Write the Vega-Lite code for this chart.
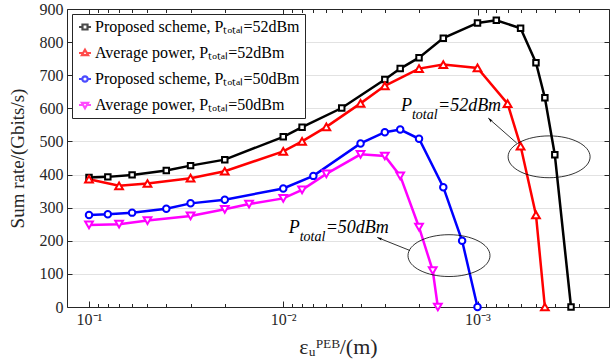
{
  "$schema": "https://vega.github.io/schema/vega-lite/v6.json",
  "width": 542,
  "height": 298,
  "autosize": {"type": "none"},
  "padding": {"left": 67, "top": 9, "right": 1, "bottom": 57},
  "background": "white",
  "config": {"view": {"stroke": null}, "font": "Liberation Serif"},
  "datasets": {
    "curves": [
      {"s": "Proposed scheme, Pₜₒₜₐₗ=52dBm", "x": 0.1, "rate": 391},
      {"s": "Proposed scheme, Pₜₒₜₐₗ=52dBm", "x": 0.08, "rate": 393},
      {"s": "Proposed scheme, Pₜₒₜₐₗ=52dBm", "x": 0.06, "rate": 399},
      {"s": "Proposed scheme, Pₜₒₜₐₗ=52dBm", "x": 0.04, "rate": 412},
      {"s": "Proposed scheme, Pₜₒₜₐₗ=52dBm", "x": 0.03, "rate": 427},
      {"s": "Proposed scheme, Pₜₒₜₐₗ=52dBm", "x": 0.02, "rate": 445},
      {"s": "Proposed scheme, Pₜₒₜₐₗ=52dBm", "x": 0.01, "rate": 514},
      {"s": "Proposed scheme, Pₜₒₜₐₗ=52dBm", "x": 0.008, "rate": 543},
      {"s": "Proposed scheme, Pₜₒₜₐₗ=52dBm", "x": 0.005, "rate": 601},
      {"s": "Proposed scheme, Pₜₒₜₐₗ=52dBm", "x": 0.003, "rate": 687},
      {"s": "Proposed scheme, Pₜₒₜₐₗ=52dBm", "x": 0.0025, "rate": 720},
      {"s": "Proposed scheme, Pₜₒₜₐₗ=52dBm", "x": 0.002, "rate": 753},
      {"s": "Proposed scheme, Pₜₒₜₐₗ=52dBm", "x": 0.0015, "rate": 812},
      {"s": "Proposed scheme, Pₜₒₜₐₗ=52dBm", "x": 0.001, "rate": 858},
      {"s": "Proposed scheme, Pₜₒₜₐₗ=52dBm", "x": 0.0008, "rate": 866},
      {"s": "Proposed scheme, Pₜₒₜₐₗ=52dBm", "x": 0.0006, "rate": 842},
      {"s": "Proposed scheme, Pₜₒₜₐₗ=52dBm", "x": 0.0005, "rate": 738},
      {"s": "Proposed scheme, Pₜₒₜₐₗ=52dBm", "x": 0.00045, "rate": 632},
      {"s": "Proposed scheme, Pₜₒₜₐₗ=52dBm", "x": 0.0004, "rate": 460},
      {"s": "Proposed scheme, Pₜₒₜₐₗ=52dBm", "x": 0.00033, "rate": 0},
      {"s": "Average power, Pₜₒₜₐₗ=52dBm", "x": 0.1, "rate": 386},
      {"s": "Average power, Pₜₒₜₐₗ=52dBm", "x": 0.07, "rate": 366},
      {"s": "Average power, Pₜₒₜₐₗ=52dBm", "x": 0.05, "rate": 373},
      {"s": "Average power, Pₜₒₜₐₗ=52dBm", "x": 0.03, "rate": 389},
      {"s": "Average power, Pₜₒₜₐₗ=52dBm", "x": 0.02, "rate": 410},
      {"s": "Average power, Pₜₒₜₐₗ=52dBm", "x": 0.01, "rate": 470},
      {"s": "Average power, Pₜₒₜₐₗ=52dBm", "x": 0.008, "rate": 500},
      {"s": "Average power, Pₜₒₜₐₗ=52dBm", "x": 0.006, "rate": 544},
      {"s": "Average power, Pₜₒₜₐₗ=52dBm", "x": 0.004, "rate": 615},
      {"s": "Average power, Pₜₒₜₐₗ=52dBm", "x": 0.003, "rate": 668},
      {"s": "Average power, Pₜₒₜₐₗ=52dBm", "x": 0.002, "rate": 720},
      {"s": "Average power, Pₜₒₜₐₗ=52dBm", "x": 0.0015, "rate": 732},
      {"s": "Average power, Pₜₒₜₐₗ=52dBm", "x": 0.001, "rate": 722},
      {"s": "Average power, Pₜₒₜₐₗ=52dBm", "x": 0.0007, "rate": 614},
      {"s": "Average power, Pₜₒₜₐₗ=52dBm", "x": 0.0006, "rate": 486},
      {"s": "Average power, Pₜₒₜₐₗ=52dBm", "x": 0.0005, "rate": 278},
      {"s": "Average power, Pₜₒₜₐₗ=52dBm", "x": 0.00045, "rate": 0},
      {"s": "Proposed scheme, Pₜₒₜₐₗ=50dBm", "x": 0.1, "rate": 278},
      {"s": "Proposed scheme, Pₜₒₜₐₗ=50dBm", "x": 0.08, "rate": 280},
      {"s": "Proposed scheme, Pₜₒₜₐₗ=50dBm", "x": 0.06, "rate": 285},
      {"s": "Proposed scheme, Pₜₒₜₐₗ=50dBm", "x": 0.04, "rate": 297},
      {"s": "Proposed scheme, Pₜₒₜₐₗ=50dBm", "x": 0.03, "rate": 313},
      {"s": "Proposed scheme, Pₜₒₜₐₗ=50dBm", "x": 0.02, "rate": 324},
      {"s": "Proposed scheme, Pₜₒₜₐₗ=50dBm", "x": 0.01, "rate": 358},
      {"s": "Proposed scheme, Pₜₒₜₐₗ=50dBm", "x": 0.007, "rate": 396},
      {"s": "Proposed scheme, Pₜₒₜₐₗ=50dBm", "x": 0.004, "rate": 494},
      {"s": "Proposed scheme, Pₜₒₜₐₗ=50dBm", "x": 0.003, "rate": 528},
      {"s": "Proposed scheme, Pₜₒₜₐₗ=50dBm", "x": 0.0025, "rate": 536},
      {"s": "Proposed scheme, Pₜₒₜₐₗ=50dBm", "x": 0.002, "rate": 508},
      {"s": "Proposed scheme, Pₜₒₜₐₗ=50dBm", "x": 0.0015, "rate": 362},
      {"s": "Proposed scheme, Pₜₒₜₐₗ=50dBm", "x": 0.0012, "rate": 200},
      {"s": "Proposed scheme, Pₜₒₜₐₗ=50dBm", "x": 0.001, "rate": 0},
      {"s": "Average power, Pₜₒₜₐₗ=50dBm", "x": 0.1, "rate": 248},
      {"s": "Average power, Pₜₒₜₐₗ=50dBm", "x": 0.07, "rate": 250},
      {"s": "Average power, Pₜₒₜₐₗ=50dBm", "x": 0.05, "rate": 261},
      {"s": "Average power, Pₜₒₜₐₗ=50dBm", "x": 0.03, "rate": 275},
      {"s": "Average power, Pₜₒₜₐₗ=50dBm", "x": 0.02, "rate": 295},
      {"s": "Average power, Pₜₒₜₐₗ=50dBm", "x": 0.015, "rate": 311},
      {"s": "Average power, Pₜₒₜₐₗ=50dBm", "x": 0.01, "rate": 328},
      {"s": "Average power, Pₜₒₜₐₗ=50dBm", "x": 0.008, "rate": 354},
      {"s": "Average power, Pₜₒₜₐₗ=50dBm", "x": 0.006, "rate": 402},
      {"s": "Average power, Pₜₒₜₐₗ=50dBm", "x": 0.004, "rate": 461},
      {"s": "Average power, Pₜₒₜₐₗ=50dBm", "x": 0.003, "rate": 456},
      {"s": "Average power, Pₜₒₜₐₗ=50dBm", "x": 0.0025, "rate": 396},
      {"s": "Average power, Pₜₒₜₐₗ=50dBm", "x": 0.002, "rate": 241},
      {"s": "Average power, Pₜₒₜₐₗ=50dBm", "x": 0.0017, "rate": 110},
      {"s": "Average power, Pₜₒₜₐₗ=50dBm", "x": 0.0016, "rate": 0}
    ],
    "ellipses": [
      {"x": 0.000428, "rate": 453.6},
      {"x": 0.001402, "rate": 155.2}
    ],
    "arrows": [
      {"id": 1, "x": 0.000628, "rate": 495, "x2": 0.00088, "rate2": 570.5},
      {"id": 2, "x": 0.002227, "rate": 170.6, "x2": 0.00328, "rate2": 210}
    ],
    "notes": [
      {"x": 0.002477, "rate": 592.6, "p": "P", "sub": "total", "rest": "=52dBm"},
      {"x": 0.00938, "rate": 224, "p": "P", "sub": "total", "rest": "=50dBm"}
    ]
  },
  "layer": [
    {
      "data": {"name": "curves"},
      "mark": {"type": "line", "strokeWidth": 2.5},
      "encoding": {
        "x": {"field": "x", "type": "quantitative",
          "scale": {"type": "log", "domain": [0.0002104, 0.1298], "reverse": true, "nice": false},
          "axis": {"orient": "bottom", "values": [0.1, 0.01, 0.001],
            "labelExpr": "datum.value > 0.05 ? '10⁻¹' : datum.value > 0.005 ? '10⁻²' : '10⁻³'",
            "tickSize": -6, "tickColor": "#262626", "domainColor": "#262626", "grid": false,
            "labelFontSize": 16, "labelColor": "#262626", "labelPadding": 10, "labelFlush": false, "labelOverlap": false,
            "title": "εᵤᴾᴱᴮ/(m)", "titleFontSize": 22, "titleFontWeight": "normal", "titleColor": "#262626", "titlePadding": 9}},
        "y": {"field": "rate", "type": "quantitative",
          "scale": {"domain": [0, 900], "nice": false},
          "axis": {"orient": "left", "values": [0, 100, 200, 300, 400, 500, 600, 700, 800, 900],
            "grid": true, "gridColor": "#e2e2e2", "tickSize": -5, "tickColor": "#262626", "domainColor": "#262626",
            "labelFontSize": 16, "labelColor": "#262626", "labelPadding": 9,
            "title": "Sum rate/(Gbits/s)", "titleFontSize": 19, "titleFontWeight": "normal", "titleColor": "#262626", "titlePadding": 12}},
        "stroke": {"field": "s", "type": "nominal",
          "scale": {"domain": ["Proposed scheme, Pₜₒₜₐₗ=52dBm", "Average power, Pₜₒₜₐₗ=52dBm", "Proposed scheme, Pₜₒₜₐₗ=50dBm", "Average power, Pₜₒₜₐₗ=50dBm"],
            "range": ["#000000", "#ff0000", "#0000ff", "#ff00ff"]},
          "legend": {"orient": "top-left", "offset": 5, "title": null,
            "strokeColor": "#262626", "fillColor": "white", "padding": 5,
            "labelFont": "Liberation Serif", "labelFontSize": 16, "labelColor": "#000000", "labelLimit": 400, "labelOffset": 2,
            "symbolSize": 144, "symbolStrokeWidth": 2.2, "rowPadding": 10}}
      }
    },
    {
      "data": {"name": "curves"},
      "transform": [{"filter": {"field": "s", "equal": "Proposed scheme, Pₜₒₜₐₗ=52dBm"}}],
      "mark": {"type": "point", "shape": "square", "filled": true, "fill": "white", "stroke": "#000000", "strokeWidth": 2, "size": 30, "opacity": 1},
      "encoding": {
        "x": {"field": "x", "type": "quantitative",
          "scale": {"type": "log", "domain": [0.0002104, 0.1298], "reverse": true, "nice": false},
          "axis": {"orient": "bottom", "values": [0.09, 0.08, 0.07, 0.06, 0.05, 0.04, 0.03, 0.02, 0.009, 0.008, 0.007, 0.006, 0.005, 0.004, 0.003, 0.002, 0.0009, 0.0008, 0.0007, 0.0006, 0.0005, 0.0004, 0.0003],
            "labels": false, "tickSize": -3.5, "tickColor": "#262626", "domain": false, "grid": false, "title": null}},
        "y": {"field": "rate", "type": "quantitative",
          "scale": {"domain": [0, 900], "nice": false},
          "axis": {"orient": "right", "values": [0, 100, 200, 300, 400, 500, 600, 700, 800, 900],
            "labels": false, "tickSize": -5, "tickColor": "#262626", "domainColor": "#262626", "grid": false, "title": null}}
      }
    },
    {
      "data": {"name": "curves"},
      "transform": [{"filter": {"field": "s", "equal": "Average power, Pₜₒₜₐₗ=52dBm"}}],
      "mark": {"type": "point", "shape": "triangle-up", "filled": true, "fill": "white", "stroke": "#ff0000", "strokeWidth": 2, "size": 60, "opacity": 1},
      "encoding": {
        "x": {"field": "x", "type": "quantitative",
          "scale": {"type": "log", "domain": [0.0002104, 0.1298], "reverse": true, "nice": false},
          "axis": {"orient": "top", "values": [0.1, 0.01, 0.001], "labels": false, "tickSize": -6, "tickColor": "#262626", "domainColor": "#262626", "grid": false, "title": null}},
        "y": {"field": "rate", "type": "quantitative", "scale": {"domain": [0, 900], "nice": false}, "axis": null}
      }
    },
    {
      "data": {"name": "curves"},
      "transform": [{"filter": {"field": "s", "equal": "Proposed scheme, Pₜₒₜₐₗ=50dBm"}}],
      "mark": {"type": "point", "shape": "circle", "filled": true, "fill": "white", "stroke": "#0000ff", "strokeWidth": 2, "size": 42, "opacity": 1},
      "encoding": {
        "x": {"field": "x", "type": "quantitative",
          "scale": {"type": "log", "domain": [0.0002104, 0.1298], "reverse": true, "nice": false},
          "axis": {"orient": "top", "values": [0.09, 0.08, 0.07, 0.06, 0.05, 0.04, 0.03, 0.02, 0.009, 0.008, 0.007, 0.006, 0.005, 0.004, 0.003, 0.002, 0.0009, 0.0008, 0.0007, 0.0006, 0.0005, 0.0004, 0.0003],
            "labels": false, "tickSize": -3.5, "tickColor": "#262626", "domain": false, "grid": false, "title": null}},
        "y": {"field": "rate", "type": "quantitative", "scale": {"domain": [0, 900], "nice": false}, "axis": null}
      }
    },
    {
      "data": {"name": "curves"},
      "transform": [{"filter": {"field": "s", "equal": "Average power, Pₜₒₜₐₗ=50dBm"}}],
      "mark": {"type": "point", "shape": "triangle-down", "filled": true, "fill": "white", "stroke": "#ff00ff", "strokeWidth": 2, "size": 60, "opacity": 1},
      "encoding": {
        "x": {"field": "x", "type": "quantitative", "scale": {"type": "log", "domain": [0.0002104, 0.1298], "reverse": true, "nice": false}, "axis": null},
        "y": {"field": "rate", "type": "quantitative", "scale": {"domain": [0, 900], "nice": false}, "axis": null}
      }
    },
    {
      "data": {"name": "curves"},
      "mark": {"type": "point", "filled": false, "strokeWidth": 2, "size": 0},
      "encoding": {
        "x": {"field": "x", "type": "quantitative", "scale": {"type": "log", "domain": [0.0002104, 0.1298], "reverse": true, "nice": false}, "axis": null},
        "y": {"field": "rate", "type": "quantitative", "scale": {"domain": [0, 900], "nice": false}, "axis": null},
        "color": {"field": "s", "type": "nominal",
          "scale": {"domain": ["Proposed scheme, Pₜₒₜₐₗ=52dBm", "Average power, Pₜₒₜₐₗ=52dBm", "Proposed scheme, Pₜₒₜₐₗ=50dBm", "Average power, Pₜₒₜₐₗ=50dBm"],
            "range": ["#000000", "#ff0000", "#0000ff", "#ff00ff"]},
          "legend": {"orient": "top-left", "offset": 5, "title": null,
            "strokeColor": "#262626", "fillColor": "white", "padding": 5,
            "labelFont": "Liberation Serif", "labelFontSize": 16, "labelColor": "#000000", "labelLimit": 400, "labelOffset": 2,
            "symbolSize": 144, "symbolStrokeWidth": 2.2, "rowPadding": 10}},
        "shape": {"field": "s", "type": "nominal",
          "scale": {"domain": ["Proposed scheme, Pₜₒₜₐₗ=52dBm", "Average power, Pₜₒₜₐₗ=52dBm", "Proposed scheme, Pₜₒₜₐₗ=50dBm", "Average power, Pₜₒₜₐₗ=50dBm"],
            "range": [
              "M-1,0H-0.42M0.42,0H1M-0.42,-0.42H0.42V0.42H-0.42Z",
              "M-1,0H-0.31M0.31,0H1M0,-0.55L0.52,0.35H-0.52Z",
              "M-1,0H-0.45M0.45,0H1M-0.45,0A0.45,0.45 0 1,0 0.45,0A0.45,0.45 0 1,0 -0.45,0Z",
              "M-1,0H-0.31M0.31,0H1M0,0.55L0.52,-0.35H-0.52Z"
            ]},
          "legend": {"orient": "top-left", "offset": 5, "title": null,
            "strokeColor": "#262626", "fillColor": "white", "padding": 5,
            "labelFont": "Liberation Serif", "labelFontSize": 16, "labelColor": "#000000", "labelLimit": 400, "labelOffset": 2,
            "symbolSize": 144, "symbolStrokeWidth": 2.2, "rowPadding": 10}}
      }
    },
    {
      "data": {"name": "ellipses"},
      "mark": {"type": "point", "shape": "M-1,0A1,0.51 0 1,1 1,0A1,0.51 0 1,1 -1,0Z", "size": 6724, "filled": false, "stroke": "#000000", "strokeWidth": 0.8, "opacity": 1},
      "encoding": {
        "x": {"field": "x", "type": "quantitative", "scale": {"type": "log", "domain": [0.0002104, 0.1298], "reverse": true, "nice": false}, "axis": null},
        "y": {"field": "rate", "type": "quantitative", "scale": {"domain": [0, 900], "nice": false}, "axis": null}
      }
    },
    {
      "data": {"name": "arrows"},
      "mark": {"type": "rule", "stroke": "#000000", "strokeWidth": 0.8},
      "encoding": {
        "x": {"field": "x", "type": "quantitative", "scale": {"type": "log", "domain": [0.0002104, 0.1298], "reverse": true, "nice": false}, "axis": null},
        "y": {"field": "rate", "type": "quantitative", "scale": {"domain": [0, 900], "nice": false}, "axis": null},
        "x2": {"field": "x2"},
        "y2": {"field": "rate2"}
      }
    },
    {
      "data": {"name": "arrows"},
      "transform": [{"filter": "datum.id == 1"}],
      "mark": {"type": "point", "shape": "M0,0L0.4,1.4L0,1.1L-0.4,1.4Z", "size": 49, "filled": true, "fill": "#000000", "stroke": null, "angle": 313.6, "opacity": 1},
      "encoding": {
        "x": {"field": "x2", "type": "quantitative", "scale": {"type": "log", "domain": [0.0002104, 0.1298], "reverse": true, "nice": false}, "axis": null},
        "y": {"field": "rate2", "type": "quantitative", "scale": {"domain": [0, 900], "nice": false}, "axis": null}
      }
    },
    {
      "data": {"name": "arrows"},
      "transform": [{"filter": "datum.id == 2"}],
      "mark": {"type": "point", "shape": "M0,0L0.4,1.4L0,1.1L-0.4,1.4Z", "size": 49, "filled": true, "fill": "#000000", "stroke": null, "angle": 291.9, "opacity": 1},
      "encoding": {
        "x": {"field": "x2", "type": "quantitative", "scale": {"type": "log", "domain": [0.0002104, 0.1298], "reverse": true, "nice": false}, "axis": null},
        "y": {"field": "rate2", "type": "quantitative", "scale": {"domain": [0, 900], "nice": false}, "axis": null}
      }
    },
    {
      "data": {"name": "notes"},
      "mark": {"type": "text", "font": "Liberation Serif", "fontStyle": "italic", "fontSize": 18, "align": "left", "baseline": "alphabetic", "color": "#000000"},
      "encoding": {
        "x": {"field": "x", "type": "quantitative", "scale": {"type": "log", "domain": [0.0002104, 0.1298], "reverse": true, "nice": false}, "axis": null},
        "y": {"field": "rate", "type": "quantitative", "scale": {"domain": [0, 900], "nice": false}, "axis": null},
        "text": {"field": "p"}
      }
    },
    {
      "data": {"name": "notes"},
      "mark": {"type": "text", "font": "Liberation Serif", "fontStyle": "italic", "fontSize": 14, "align": "left", "baseline": "alphabetic", "color": "#000000", "dx": 11, "dy": 8},
      "encoding": {
        "x": {"field": "x", "type": "quantitative", "scale": {"type": "log", "domain": [0.0002104, 0.1298], "reverse": true, "nice": false}, "axis": null},
        "y": {"field": "rate", "type": "quantitative", "scale": {"domain": [0, 900], "nice": false}, "axis": null},
        "text": {"field": "sub"}
      }
    },
    {
      "data": {"name": "notes"},
      "mark": {"type": "text", "font": "Liberation Serif", "fontStyle": "italic", "fontSize": 18, "align": "left", "baseline": "alphabetic", "color": "#000000", "dx": 37},
      "encoding": {
        "x": {"field": "x", "type": "quantitative", "scale": {"type": "log", "domain": [0.0002104, 0.1298], "reverse": true, "nice": false}, "axis": null},
        "y": {"field": "rate", "type": "quantitative", "scale": {"domain": [0, 900], "nice": false}, "axis": null},
        "text": {"field": "rest"}
      }
    }
  ],
  "resolve": {"axis": {"x": "independent", "y": "independent"}}
}
